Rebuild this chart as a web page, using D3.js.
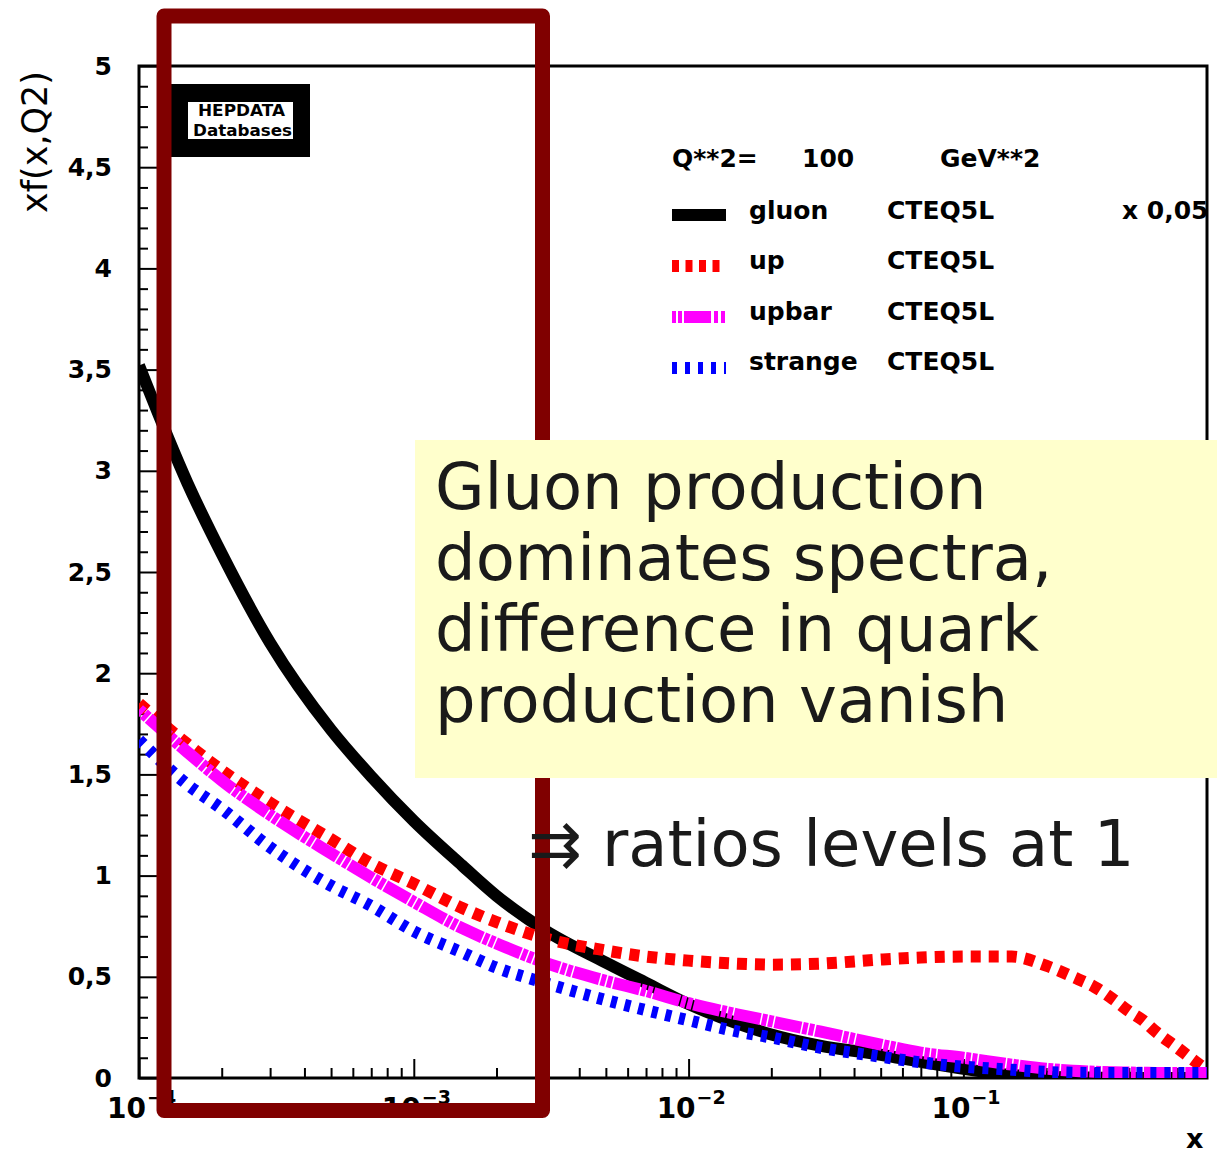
<!DOCTYPE html>
<html>
<head>
<meta charset="utf-8">
<script src="https://cdn.jsdelivr.net/npm/d3@7"></script>
<style>
  body { margin: 0; background: #fff; }
  svg { display: block; }
  .lbl { font-family: "DejaVu Sans", sans-serif; font-weight: bold; fill: #000; }
  .axis line { stroke: #000; stroke-width: 2; }
  .axis path { display: none; }
</style>
</head>
<body>
<div class="wrap-chart"></div>
<script>
var
  width = 1217,
  height = 1157,
  plot = {left: 139, right: 1207, top: 66, bottom: 1078},
  xMax = 0.77;

// x values of the sampled points
var xValues = [1e-4, 1.5e-4, 2e-4, 3e-4, 5e-4, 7e-4, 1e-3, 1.5e-3, 2e-3, 3e-3, 5e-3, 7e-3,
  1e-2, 1.5e-2, 2e-2, 3e-2, 5e-2, 7e-2, 0.1, 0.15, 0.2, 0.25, 0.3, 0.35, 0.4, 0.45, 0.5, 0.6, 0.7, 0.77];

// xf(x,Q2) (gluon already x 0.05)
var gluon = [3.52, 2.94, 2.59, 2.15, 1.72, 1.49, 1.27, 1.05, 0.90, 0.73, 0.57, 0.47,
  0.365, 0.27, 0.215, 0.16, 0.115, 0.08, 0.045, 0.015, 0.006, 0.003, 0.002, 0.001, 0.001, 0, 0, 0, 0, 0];
var up = [1.85, 1.65, 1.52, 1.36, 1.18, 1.06, 0.96, 0.84, 0.77, 0.69, 0.63, 0.60,
  0.58, 0.565, 0.56, 0.565, 0.585, 0.595, 0.60, 0.60, 0.555, 0.50, 0.45, 0.39, 0.33, 0.285, 0.23, 0.15, 0.08, 0.04];
var upbar = [1.82, 1.61, 1.47, 1.30, 1.11, 0.99, 0.87, 0.74, 0.665, 0.57, 0.48, 0.43,
  0.37, 0.315, 0.28, 0.23, 0.165, 0.125, 0.10, 0.066, 0.046, 0.036, 0.031, 0.028, 0.027, 0.026, 0.025, 0.025, 0.025, 0.025];
var strange = [1.67, 1.45, 1.33, 1.14, 0.95, 0.85, 0.725, 0.62, 0.545, 0.47, 0.385, 0.335,
  0.285, 0.23, 0.20, 0.15, 0.105, 0.077, 0.056, 0.041, 0.03, 0.026, 0.025, 0.025, 0.025, 0.025, 0.025, 0.025, 0.025, 0.025];

var xMajorTicks = [1e-4, 1e-3, 1e-2, 1e-1];
var xTickExponents = ["\u22124", "\u22123", "\u22122", "\u22121"];
var yMajorTicks = [0, 0.5, 1, 1.5, 2, 2.5, 3, 3.5, 4, 4.5, 5];

var seriesNames = ["gluon", "up", "upbar", "strange"];
var seriesColors = ["#000000", "#ff0000", "#ff00ff", "#0000ff"];
var seriesDash = ["none", "10,8", "5,1.5,5,1.5,27,1.5", "6,8"];
var legendDash = ["none", "7,6.5", "4,2,4,2,27,3,4,3", "5,8"];
var legendSet = "CTEQ5L";
var legendTitle = ["Q**2=", "100", "GeV**2"];
var gluonScaleNote = "x 0,05";

var noteLines = ["Gluon production", "dominates spectra,", "difference in quark", "production vanish"];
var noteConclusion = "\u21c9 ratios levels at 1";

var seriesData = [gluon, up, upbar, strange];

var x = d3.scaleLog().domain([1e-4, xMax]).range([plot.left, plot.right]);
var y = d3.scaleLinear().domain([0, 5]).range([plot.bottom, plot.top]);

var svg = d3.select(".wrap-chart").append("svg")
  .attr("width", width)
  .attr("height", height);

svg.append("defs").append("clipPath").attr("id", "plotClip")
  .append("rect")
  .attr("x", plot.left).attr("y", plot.top)
  .attr("width", plot.right - plot.left).attr("height", plot.bottom - plot.top);

// minor ticks
var xMinor = [];
xMajorTicks.forEach(function (d) {
  for (var k = 2; k <= 9; k++) if (d * k <= xMax) xMinor.push(d * k);
});
var yMinor = d3.range(0, 51).map(function (i) { return i / 10; })
  .filter(function (v) { return Math.round(v * 10) % 5 !== 0; });

svg.append("g").attr("class", "axis")
  .attr("transform", "translate(0," + plot.bottom + ")")
  .call(d3.axisBottom(x).tickValues(xMajorTicks).tickSize(-19).tickSizeOuter(0).tickFormat(""));
svg.append("g").attr("class", "axis")
  .attr("transform", "translate(0," + plot.bottom + ")")
  .call(d3.axisBottom(x).tickValues(xMinor).tickSize(-10).tickSizeOuter(0).tickFormat(""));

var yAxis = svg.append("g").attr("class", "axis")
  .attr("transform", "translate(" + plot.left + ",0)")
  .call(d3.axisLeft(y).tickValues(yMajorTicks).tickSize(-18).tickSizeOuter(0).tickPadding(27)
    .tickFormat(function (d) { return String(d).replace(".", ","); }));
yAxis.selectAll("text")
  .attr("class", "lbl")
  .style("font-size", "25px")
  .style("font-family", "'DejaVu Sans', sans-serif")
  .style("font-weight", "bold");
svg.append("g").attr("class", "axis")
  .attr("transform", "translate(" + plot.left + ",0)")
  .call(d3.axisLeft(y).tickValues(yMinor).tickSize(-9).tickSizeOuter(0).tickFormat(""));

// frame
svg.append("rect")
  .attr("x", plot.left).attr("y", plot.top)
  .attr("width", plot.right - plot.left).attr("height", plot.bottom - plot.top)
  .attr("fill", "none").attr("stroke", "#000").attr("stroke-width", 3);

// x labels 10^n
var xLab = svg.append("g");
xMajorTicks.forEach(function (d, i) {
  xLab.append("text").attr("class", "lbl")
    .attr("x", x(d) + 7).attr("y", 1118)
    .attr("text-anchor", "end")
    .style("font-size", "28px")
    .text("10");
  xLab.append("text").attr("class", "lbl")
    .attr("x", x(d) + 8).attr("y", 1104)
    .style("font-size", "19px")
    .text(xTickExponents[i]);
});

svg.append("text").attr("class", "lbl")
  .attr("x", 1186).attr("y", 1148)
  .style("font-size", "27px")
  .text("x");

svg.append("text")
  .attr("transform", "translate(47,213) rotate(-90)")
  .style("font-family", "'DejaVu Sans', sans-serif")
  .style("font-size", "35px")
  .text("xf(x,Q2)");

// curves
var line = d3.line()
  .x(function (d) { return x(d[0]); })
  .y(function (d) { return y(d[1]); })
  .curve(d3.curveMonotoneX);

svg.append("g").attr("clip-path", "url(#plotClip)")
  .selectAll("path")
  .data(seriesData).enter()
  .append("path")
  .attr("d", function (s) { return line(s.map(function (v, i) { return [xValues[i], v]; })); })
  .attr("fill", "none")
  .attr("stroke", function (s, i) { return seriesColors[i]; })
  .attr("stroke-width", 12)
  .attr("stroke-dasharray", function (s, i) { return seriesDash[i]; });

// HEPDATA logo
var logo = svg.append("g");
logo.append("rect").attr("x", 165).attr("y", 84).attr("width", 145).attr("height", 73).attr("fill", "#000");
logo.append("rect").attr("x", 188).attr("y", 102).attr("width", 105).attr("height", 37).attr("fill", "#fff");
logo.append("text").attr("class", "lbl").attr("x", 198).attr("y", 116)
  .style("font-size", "16px").attr("textLength", 87).attr("lengthAdjust", "spacingAndGlyphs")
  .text("HEPDATA");
logo.append("text").attr("class", "lbl").attr("x", 193).attr("y", 136)
  .style("font-size", "16px").attr("textLength", 99).attr("lengthAdjust", "spacingAndGlyphs")
  .text("Databases");

// legend
var legend = svg.append("g").style("font-size", "25px");
[672, 802, 940].forEach(function (lx, i) {
  legend.append("text").attr("class", "lbl").attr("x", lx).attr("y", 167).text(legendTitle[i]);
});
var rowY = [219, 269, 320, 370];
var lineY = [215, 266, 317, 368];
seriesNames.forEach(function (name, i) {
  legend.append("line")
    .attr("x1", 672).attr("x2", 726)
    .attr("y1", lineY[i]).attr("y2", lineY[i])
    .attr("stroke", seriesColors[i]).attr("stroke-width", 12)
    .attr("stroke-dasharray", legendDash[i]);
  legend.append("text").attr("class", "lbl").attr("x", 749).attr("y", rowY[i]).text(name);
  legend.append("text").attr("class", "lbl").attr("x", 887).attr("y", rowY[i]).text(legendSet);
});
legend.append("text").attr("class", "lbl").attr("x", 1122).attr("y", rowY[0]).text(gluonScaleNote);

// highlight box
svg.append("rect")
  .attr("x", 164).attr("y", 16)
  .attr("width", 378.5).attr("height", 1094.5)
  .attr("fill", "none")
  .attr("stroke", "#800000").attr("stroke-width", 15)
  .attr("stroke-linejoin", "round");

// annotation
svg.append("rect")
  .attr("x", 415).attr("y", 440)
  .attr("width", width - 415).attr("height", 338)
  .attr("fill", "#ffffcc");

var note = svg.append("g")
  .style("font-family", "'DejaVu Sans', sans-serif")
  .style("font-size", "64px")
  .attr("fill", "#1a1a1a");
noteLines.forEach(function (t, i) {
  note.append("text").attr("x", 435).attr("y", 509 + i * 71).text(t);
});
note.append("text").attr("x", 528).attr("y", 866).text(noteConclusion);
</script>
</body>
</html>
